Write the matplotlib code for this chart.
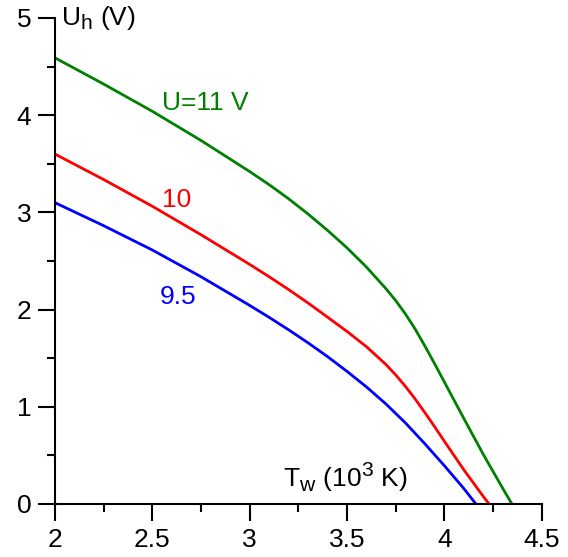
import matplotlib
matplotlib.use("Agg")
import matplotlib.pyplot as plt
import matplotlib._mathtext as mathtext_internal
from matplotlib.ticker import MultipleLocator

plt.rcParams['font.family'] = ['Liberation Sans', 'DejaVu Sans']
plt.rcParams['mathtext.fontset'] = 'custom'
plt.rcParams['mathtext.rm'] = 'Liberation Sans'
# slightly larger sub/superscripts in the axis labels
mathtext_internal.SHRINK_FACTOR = 0.8

# Heater voltage U_h versus wire temperature T_w for three supply voltages
t_11 = [2.0, 2.25, 2.5, 2.75, 3.0, 3.1, 3.2, 3.3, 3.4, 3.5, 3.6, 3.7, 3.75,
        3.8, 3.85, 3.9, 3.95, 4.0, 4.1, 4.2, 4.3, 4.347]
u_11 = [4.59, 4.32, 4.04, 3.74, 3.42, 3.285, 3.14, 2.983, 2.815, 2.635,
        2.437, 2.215, 2.093, 1.955, 1.80, 1.625, 1.443, 1.255, 0.88, 0.51,
        0.16, 0.0]

t_10 = [2.0, 2.25, 2.5, 2.75, 3.0, 3.1, 3.2, 3.3, 3.4, 3.5, 3.6, 3.7, 3.75,
        3.8, 3.85, 3.9, 3.95, 4.0, 4.1, 4.2, 4.23]
u_10 = [3.60, 3.338, 3.063, 2.77, 2.465, 2.338, 2.206, 2.068, 1.922, 1.775,
        1.618, 1.435, 1.328, 1.21, 1.08, 0.94, 0.795, 0.645, 0.352, 0.077,
        0.0]

t_95 = [2.0, 2.25, 2.5, 2.75, 3.0, 3.1, 3.2, 3.3, 3.4, 3.5, 3.6, 3.7, 3.8,
        3.9, 4.0, 4.1, 4.162]
u_95 = [3.10, 2.863, 2.613, 2.338, 2.043, 1.92, 1.792, 1.658, 1.516, 1.364,
        1.204, 1.029, 0.834, 0.619, 0.394, 0.159, 0.0]

series_labels = ["U=11 V", "10", "9.5"]
colors = ["#008000", "#ff0000", "#0000ff"]
label_pos = [(2.55, 4.13), (2.55, 3.13), (2.54, 2.13)]

fig = plt.figure(figsize=(5.68, 5.57), dpi=100)
ax = fig.add_axes([0.0968, 0.0952, 0.8569, 0.8725])

for t, u, c in zip([t_11, t_10, t_95], [u_11, u_10, u_95], colors):
    ax.plot(t, u, color=c, lw=2.0, solid_capstyle='butt',
            solid_joinstyle='round', clip_on=False)

for (x, y), s, c in zip(label_pos, series_labels, colors):
    ax.text(x, y, s, color=c, fontsize=19, ha='left', va='center')

ax.set_xlim(2, 4.5)
ax.set_ylim(0, 5)
ax.xaxis.set_major_locator(MultipleLocator(0.5))
ax.xaxis.set_minor_locator(MultipleLocator(0.25))
ax.yaxis.set_major_locator(MultipleLocator(1))
ax.yaxis.set_minor_locator(MultipleLocator(0.5))
ax.set_xticks([2, 2.5, 3, 3.5, 4, 4.5])
ax.set_xticklabels(["2", "2.5", "3", "3.5", "4", "4.5"])

for side in ("top", "right"):
    ax.spines[side].set_visible(False)
for side in ("left", "bottom"):
    ax.spines[side].set_linewidth(1.5)

ax.tick_params(which='major', direction='out', length=12, width=1.5,
               labelsize=19, pad=5)
ax.tick_params(which='minor', direction='out', length=6, width=1.5)

ax.text(2.03, 5.0, r"U$_\mathregular{h}$ (V)", fontsize=19, ha='left', va='center')
ax.text(3.17, 0.1, r"T$_\mathregular{w}$ (10$^\mathregular{3}$ K)", fontsize=19,
        ha='left', va='bottom')

fig.savefig("out.png", dpi=100)
